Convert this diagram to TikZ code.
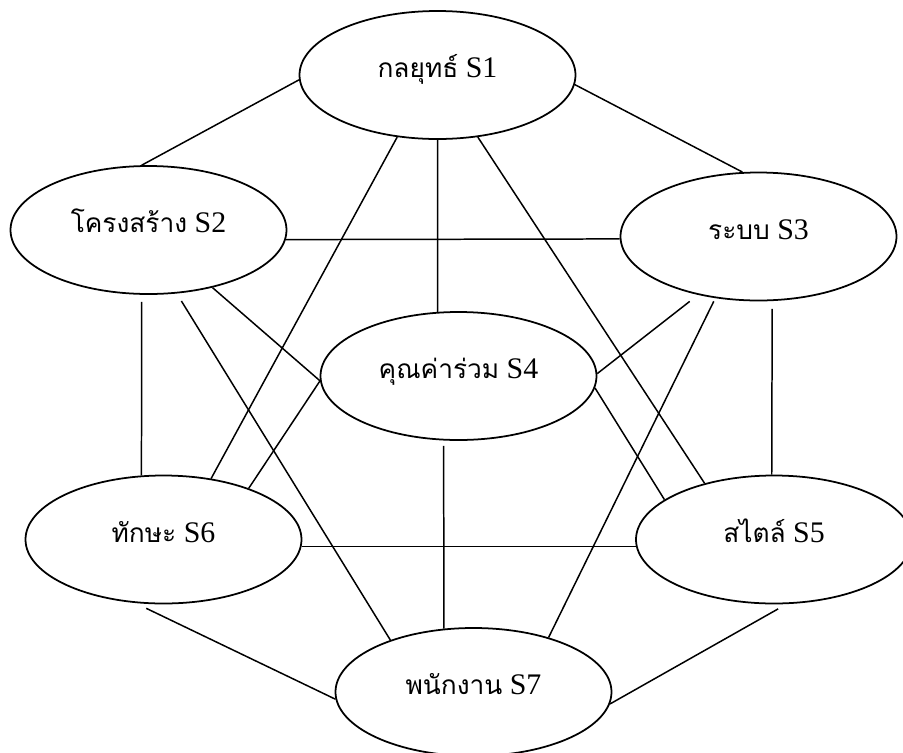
\documentclass[tikz,border=0pt]{standalone}
\usepackage{fontspec}
\setmainfont{Liberation Serif}
\newfontfamily\thaifont[Script=Thai,Scale=0.88]{Loma}
\usetikzlibrary{shapes.geometric}
\tikzset{
  ssnode/.style={ellipse, draw, line width=1pt, minimum width=5.52cm,
                 minimum height=2.56cm, inner sep=0pt, text height=0.45cm,
                 text depth=0.35cm, font=\fontsize{17}{20}\selectfont},
  sslink/.style={line width=0.85pt},
}

\begin{document}
\begin{tikzpicture}
  \clip (0,0) rectangle (18.06,-15.06);
  \fill[white] (0,0) rectangle (18.06,-15.06);
  \node[ssnode] (s1) at (8.75,-1.50) {{\thaifont กลยุทธ์} S1};
  \node[ssnode] (s2) at (2.97,-4.60) {{\thaifont โครงสร้าง} S2};
  \node[ssnode] (s3) at (15.17,-4.73) {{\thaifont ระบบ} S3};
  \node[ssnode] (s4) at (9.17,-7.52) {{\thaifont คุณค่าร่วม} S4};
  \node[ssnode] (s5) at (15.48,-10.79) {{\thaifont สไตล์} S5};
  \node[ssnode] (s6) at (3.27,-10.79) {{\thaifont ทักษะ} S6};
  \node[ssnode] (s7) at (9.47,-13.84) {{\thaifont พนักงาน} S7};
  \draw[sslink] (s1.182) -- (s2.96);
  \draw[sslink] (s1.356) -- (s3.104);
  \draw[sslink] (s1.270) -- (s4.108);
  \draw[sslink] (s1.303) -- (s5.141);
  \draw[sslink] (s1.237) -- (s6.52);
  \draw[sslink] (s2.356) -- (s3.181);
  \draw[sslink] (s2.318) -- (s4.182);
  \draw[sslink, shorten <=4pt] (s2.264) -- (s6.109);
  \draw[sslink, shorten <=5pt] (s2.294) -- (s7.148);
  \draw[sslink, shorten <=6pt] (s3.224) -- (s4.1);
  \draw[sslink, shorten <=4.5pt] (s3.282) -- (s5.92);
  \draw[sslink, shorten <=2pt] (s3.235) -- (s7.36);
  \draw[sslink] (s4.355) -- (s5.160);
  \draw[sslink] (s4.182) -- (s6.31);
  \draw[sslink, shorten <=3pt] (s4.257) -- (s7.115);
  \draw[sslink] (s6.357) -- (s5.183);
  \draw[sslink, shorten <=7pt] (s6.246) -- (s7.183);
  \draw[sslink, shorten <=5.5pt] (s5.281) -- (s7.355);
\end{tikzpicture}
\end{document}
